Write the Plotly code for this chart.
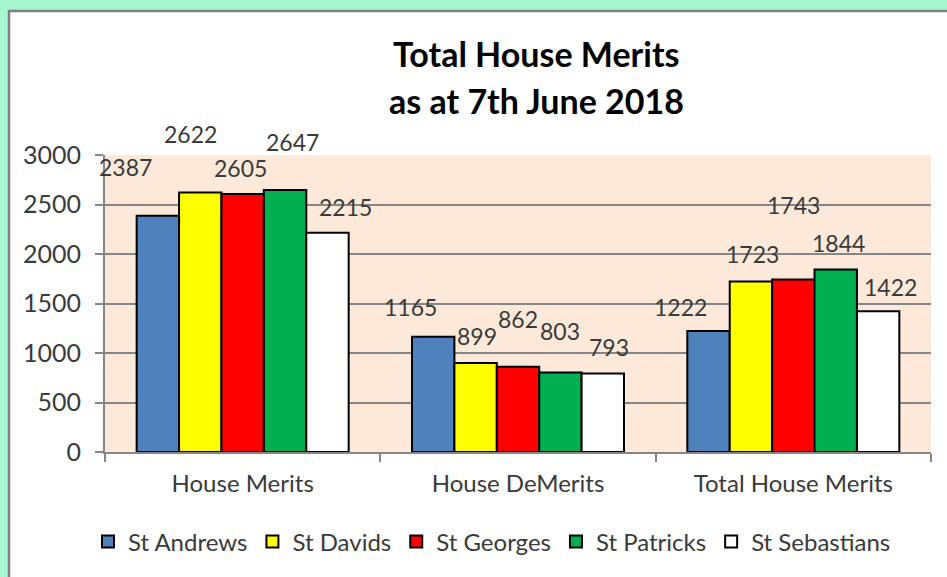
import plotly.graph_objects as go

categories = ["House Merits", "House DeMerits", "Total House Merits"]
houses = ["St Andrews", "St Davids", "St Georges", "St Patricks", "St Sebastians"]
st_andrews = [2387, 1165, 1222]
st_davids = [2622, 899, 1723]
st_georges = [2605, 862, 1743]
st_patricks = [2647, 803, 1844]
st_sebastians = [2215, 793, 1422]
y_ticks = [0, 500, 1000, 1500, 2000, 2500, 3000]

series = [st_andrews, st_davids, st_georges, st_patricks, st_sebastians]
colors = ["#4F81BD", "#FFFF00", "#FF0000", "#00B050", "#FFFFFF"]

# label nudges (pixels) relative to bar top centre, per house per category
label_dx = [[-32, -23, -28], [-10, 1, 2], [-2, 0, 0], [7, 0, 3], [18, 6, 12]]
label_dy = [[49, 30, 24], [58, 27, 27], [26, 48, 74], [48, 42, 26], [26, 26, 24]]

W, H = 947, 577
ml, mr, mt, mb = 105, 16, 155, 125
pw = W - ml - mr
ph = H - mt - mb
bargap = 0.23
bar_px = (1 - bargap) * (pw / len(categories)) / len(houses)

FONT = "Lato, Open Sans, sans-serif"
TXT = "#3A3A3A"

fig = go.Figure()
for i, (name, vals, col) in enumerate(zip(houses, series, colors)):
    fig.add_trace(go.Bar(
        x=categories, y=vals, name=name,
        marker=dict(color=col, line=dict(color="#000000", width=2)),
    ))

annotations = []
for i, vals in enumerate(series):
    for j, v in enumerate(vals):
        annotations.append(dict(
            x=categories[j], y=v, xref="x", yref="y",
            text=str(v), showarrow=False,
            xshift=(i - 2) * bar_px + label_dx[i][j],
            yshift=label_dy[i][j], yanchor="middle", xanchor="center",
            font=dict(family=FONT, size=23, color=TXT),
        ))

def px_to_paper_x(px):
    return (px - ml) / pw

def px_to_paper_y(py):
    return (H - mb - py) / ph

title_font = dict(family=FONT, size=34, color="#000000")
annotations.append(dict(x=px_to_paper_x(536), y=px_to_paper_y(53), xref="paper", yref="paper",
                        text="<b>Total House Merits</b>", showarrow=False,
                        xanchor="center", yanchor="middle", font=title_font))
annotations.append(dict(x=px_to_paper_x(536), y=px_to_paper_y(101), xref="paper", yref="paper",
                        text="<b>as at 7th June 2018</b>", showarrow=False,
                        xanchor="center", yanchor="middle", font=title_font))

shapes = [
    dict(type="rect", xref="paper", yref="paper", layer="below",
         x0=px_to_paper_x(9), x1=px_to_paper_x(W + 5),
         y0=px_to_paper_y(H + 5), y1=px_to_paper_y(11),
         fillcolor="#FFFFFF", line=dict(color="#808080", width=2.5)),
    dict(type="rect", xref="paper", yref="paper", layer="below",
         x0=0, x1=1, y0=0, y1=1, fillcolor="#FDE9D9", line=dict(width=0)),
]

fig.update_layout(
    width=W, height=H,
    margin=dict(l=ml, r=mr, t=mt, b=mb, autoexpand=False),
    paper_bgcolor="#A6F7D1",
    plot_bgcolor="#FDE9D9",
    barmode="group", bargap=bargap, bargroupgap=0,
    font=dict(family=FONT, size=24, color=TXT),
    showlegend=True,
    legend=dict(orientation="h", x=px_to_paper_x(492), xanchor="center",
                y=px_to_paper_y(542), yanchor="middle",
                font=dict(size=24, color=TXT), bgcolor="rgba(0,0,0,0)",
                itemwidth=30),
    annotations=annotations,
    shapes=shapes,
    xaxis=dict(range=[-0.5, len(categories) - 0.5], autorange=False,
               showline=True, linecolor="#868686", linewidth=2, automargin=False,
               ticks="outside", tickson="boundaries", ticklen=8, tickcolor="#868686",
               tickwidth=2, showgrid=False, ticklabelstandoff=9,
               tickfont=dict(size=24, color=TXT)),
    yaxis=dict(range=[0, 3000], autorange=False, tickvals=y_ticks, showline=True,
               linecolor="#868686",
               linewidth=2, ticks="outside", ticklen=8, tickcolor="#868686", tickwidth=2,
               showgrid=True, gridcolor="#868686", gridwidth=2, zeroline=False,
               automargin=False,
               ticklabelstandoff=9, tickfont=dict(size=25, color=TXT)),
)

fig.write_html("out.html")
